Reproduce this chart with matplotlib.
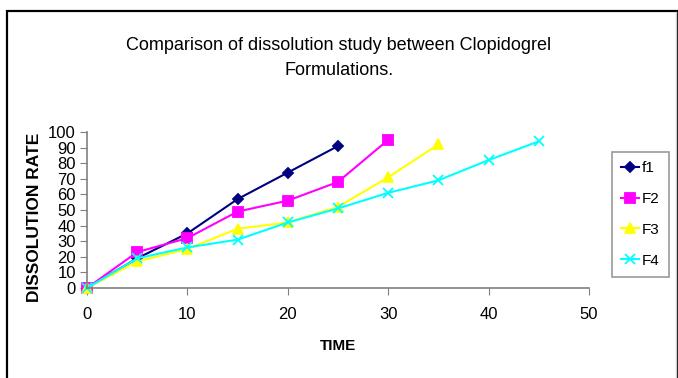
"""
Dissolution rate vs time for four clopidogrel formulations.
"""
import matplotlib.pyplot as plt
from matplotlib.patches import Rectangle
from matplotlib.lines import Line2D

plt.rcParams['font.family'] = ['Liberation Sans', 'DejaVu Sans']

time_f1 = [0, 5, 10, 15, 20, 25]
rate_f1 = [0, 19, 35, 57, 74, 91]
time_f2 = [0, 5, 10, 15, 20, 25, 30]
rate_f2 = [0, 23, 32, 49, 56, 68, 95]
time_f3 = [0, 5, 10, 15, 20, 25, 30, 35]
rate_f3 = [0, 17, 25, 38, 42, 52, 71, 92]
time_f4 = [0, 5, 10, 15, 20, 25, 30, 35, 40, 45]
rate_f4 = [0, 19, 26, 31, 42, 51, 61, 69, 82, 94]

labels = ['f1', 'F2', 'F3', 'F4']
colors = ['#000080', '#FF00FF', '#FFFF00', '#00FFFF']
markers = ['D', 's', '^', 'x']
msizes = [5, 7, 7, 7]

fig = plt.figure(figsize=(6.78, 3.78), dpi=100)
# outer chart frame (open on the right like the original screenshot)
fig.patches.append(Rectangle((7/678, -0.02), 0.99, 1 - 11/378 + 0.02,
                             transform=fig.transFigure, fill=False,
                             edgecolor='black', linewidth=1.6))
fig.lines.append(Line2D([676/678, 676/678], [0, 1 - 12/378],
                        transform=fig.transFigure, color='#d0d0d0', linewidth=1))

ax = fig.add_axes([87/678, 90/378, 502/678, 156/378])

series = [(time_f1, rate_f1), (time_f2, rate_f2),
          (time_f3, rate_f3), (time_f4, rate_f4)]
for (t, r), lab, c, m, ms in zip(series, labels, colors, markers, msizes):
    ax.plot(t, r, color=c, marker=m, markersize=ms, linewidth=1.5,
            markeredgewidth=1.3, label=lab, clip_on=False)

ax.set_xlim(0, 50)
ax.set_ylim(0, 100)
ax.set_xticks(range(0, 51, 10))
ax.set_yticks(range(0, 101, 10))
ax.spines['top'].set_visible(False)
ax.spines['right'].set_visible(False)
for s in ['left', 'bottom']:
    ax.spines[s].set_color('#808080')
    ax.spines[s].set_linewidth(1.2)
ax.tick_params(axis='both', direction='out', length=5, color='#808080',
               labelsize=12, pad=3)
ax.tick_params(axis='x', pad=9)

ax.set_xlabel('TIME', fontsize=11, fontweight='bold', labelpad=12)
ax.set_ylabel('DISSOLUTION RATE', fontsize=12.5, fontweight='bold')
ax.yaxis.set_label_coords(-0.09, 0.455)
fig.text(0.5, 1 - 58/378, 'Comparison of dissolution study between Clopidogrel\nFormulations.',
         ha='center', va='center', fontsize=13, linespacing=1.6)

leg = ax.legend(loc='upper left', bbox_to_anchor=((612 - 87)/502, 0.872),
                frameon=True, fancybox=False, fontsize=11, handlelength=1.15,
                handletextpad=0.2, labelspacing=1.1, borderpad=0.6,
                borderaxespad=0)
leg.get_frame().set_edgecolor('#808080')
leg.get_frame().set_linewidth(1.2)

plt.savefig('out.png', dpi=100)
